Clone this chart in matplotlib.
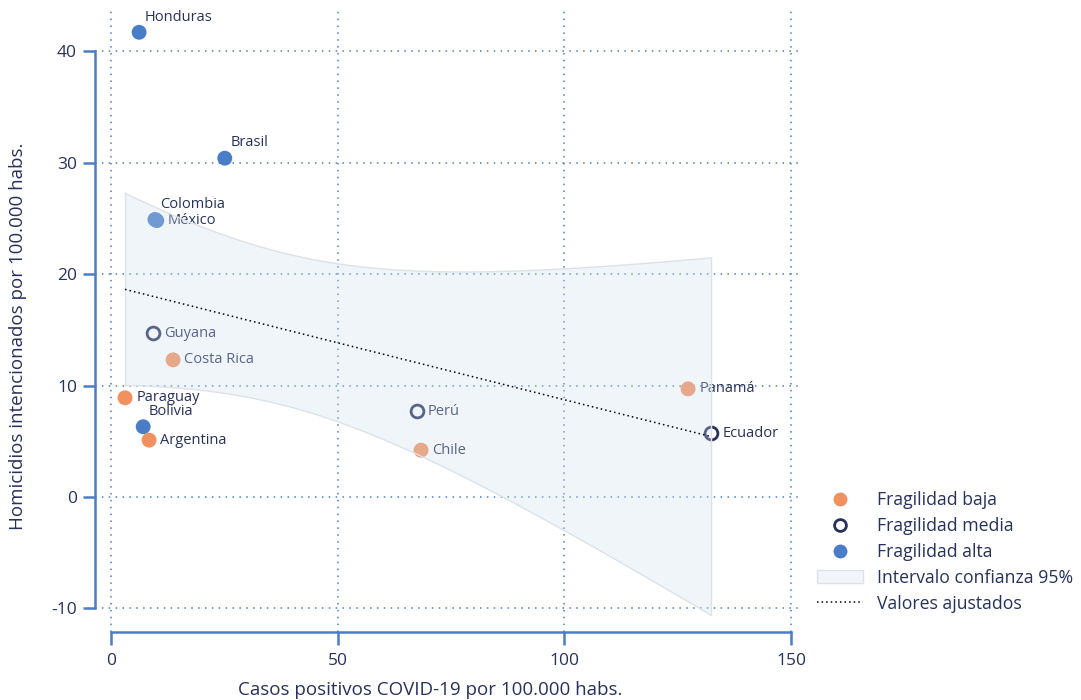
import numpy as np
import matplotlib
matplotlib.use("Agg")
from matplotlib import pyplot as plt
from matplotlib.lines import Line2D
from matplotlib.patches import Patch

plt.rcParams['font.family'] = ['Open Sans', 'DejaVu Sans']
plt.rcParams['axes.unicode_minus'] = False

# Data
countries = ['Honduras', 'Brasil', 'Colombia', 'México', 'Guyana', 'Costa Rica',
             'Paraguay', 'Bolivia', 'Argentina', 'Perú', 'Chile', 'Panamá', 'Ecuador']
covid_cases = [6.2, 25.1, 9.7, 10.1, 9.3, 13.7, 3.1, 7.1, 8.4, 67.5, 68.4, 127.3, 132.4]
homicides = [41.7, 30.4, 24.9, 24.8, 14.7, 12.3, 8.9, 6.3, 5.1, 7.7, 4.2, 9.7, 5.7]
fragility = ['alta', 'alta', 'alta', 'alta', 'media', 'baja',
             'baja', 'alta', 'baja', 'media', 'baja', 'baja', 'media']
label_above = ['Honduras', 'Brasil', 'Colombia', 'Bolivia']

x_ticks = [0, 50, 100, 150]
y_ticks = [-10, 0, 10, 20, 30, 40]

# Colours
NAVY = '#27315c'
ORANGE = '#f0915f'
BLUE = '#4a7dc7'
GRID = '#4a7cc4'
BAND = '#d0deee'
BAND_EDGE = '#dde2e9'

x = np.array(covid_cases)
y = np.array(homicides)

# Linear fit with 95% confidence interval
n = len(x)
slope, intercept = np.polyfit(x, y, 1)
resid = y - (intercept + slope * x)
s = np.sqrt(np.sum(resid ** 2) / (n - 2))
sxx = np.sum((x - x.mean()) ** 2)
t_crit = 2.201  # t(0.975, 11)
xf = np.linspace(x.min(), x.max(), 200)
yf = intercept + slope * xf
half = t_crit * s * np.sqrt(1 / n + (xf - x.mean()) ** 2 / sxx)

fig = plt.figure(figsize=(10.81, 7.0), dpi=100)
ax = fig.add_axes([95 / 1081, 68 / 700, 705 / 1081, 622 / 700])

ax.set_xlim(-3.53, 152.0)
ax.set_ylim(-12.12, 43.7)

# Points
for name, xi, yi, fr in zip(countries, x, y, fragility):
    if fr == 'media':
        ax.scatter(xi, yi, s=85, facecolor='white', edgecolor=NAVY, linewidth=2, zorder=3)
    else:
        ax.scatter(xi, yi, s=115, color=ORANGE if fr == 'baja' else BLUE,
                   edgecolor='none', zorder=3)
    if name in label_above:
        ax.annotate(name, (xi, yi), xytext=(4, 11), textcoords='offset points',
                    ha='left', va='center', fontsize=10.5, color=NAVY, zorder=3)
    else:
        ax.annotate(name, (xi, yi), xytext=(8, 0), textcoords='offset points',
                    ha='left', va='center', fontsize=10.5, color=NAVY, zorder=3)

# Confidence band drawn over points
ax.fill_between(xf, yf - half, yf + half, facecolor=BAND, alpha=0.3,
                edgecolor='none', zorder=4)
ax.plot(xf, yf + half, color=BAND_EDGE, lw=1, zorder=4)
ax.plot(xf, yf - half, color=BAND_EDGE, lw=1, zorder=4)
ax.plot([xf[-1], xf[-1]], [yf[-1] - half[-1], yf[-1] + half[-1]], color=BAND_EDGE, lw=1, zorder=4)
ax.plot([xf[0], xf[0]], [yf[0] - half[0], yf[0] + half[0]], color=BAND_EDGE, lw=1, zorder=4)

# Fitted values
ax.plot(xf, yf, color='black', lw=1.1, linestyle=(0, (1, 2)), zorder=5)

# Grid
ax.set_xticks(x_ticks)
ax.set_yticks(y_ticks)
ax.grid(True, color=GRID, linestyle=(0, (1, 3.5)), linewidth=1.1)
ax.set_axisbelow(True)

# Spines
for side in ['top', 'right']:
    ax.spines[side].set_visible(False)
ax.spines['left'].set_bounds(-10, 40)
ax.spines['bottom'].set_bounds(0, 150)
for side in ['left', 'bottom']:
    ax.spines[side].set_color(BLUE)
    ax.spines[side].set_linewidth(1.8)
ax.tick_params(axis='both', colors=BLUE, width=1.8, length=9, labelsize=12.5,
               labelcolor=NAVY)
ax.tick_params(axis='x', pad=6)
ax.tick_params(axis='y', pad=4)

fig.text(430 / 1081, 1 - 690 / 700, 'Casos positivos COVID-19 por 100.000 habs.',
         ha='center', va='center', fontsize=13.5, color=NAVY)
fig.text(18 / 1081, 1 - 336 / 700, 'Homicidios intencionados por 100.000 habs.',
         ha='center', va='center', rotation=90, fontsize=13.5, color=NAVY)

# Legend
handles = [
    Line2D([], [], marker='o', linestyle='none', markersize=10,
           markerfacecolor=ORANGE, markeredgecolor='none'),
    Line2D([], [], marker='o', linestyle='none', markersize=8.5,
           markerfacecolor='white', markeredgecolor=NAVY, markeredgewidth=2),
    Line2D([], [], marker='o', linestyle='none', markersize=10,
           markerfacecolor=BLUE, markeredgecolor='none'),
    Patch(facecolor='#f1f5fa', edgecolor=BAND_EDGE),
    Line2D([], [], color='black', lw=1.1, linestyle=(0, (1, 2))),
]
labels = ['Fragilidad baja', 'Fragilidad media', 'Fragilidad alta',
          'Intervalo confianza 95%', 'Valores ajustados']
leg = fig.legend(handles, labels, loc='upper left',
                 bbox_to_anchor=(801 / 1081, 1 - 475 / 700), frameon=False,
                 fontsize=12.7, labelcolor=NAVY, handlelength=2.6,
                 handletextpad=0.8, labelspacing=0.45)

fig.savefig('out.png', dpi=100)
